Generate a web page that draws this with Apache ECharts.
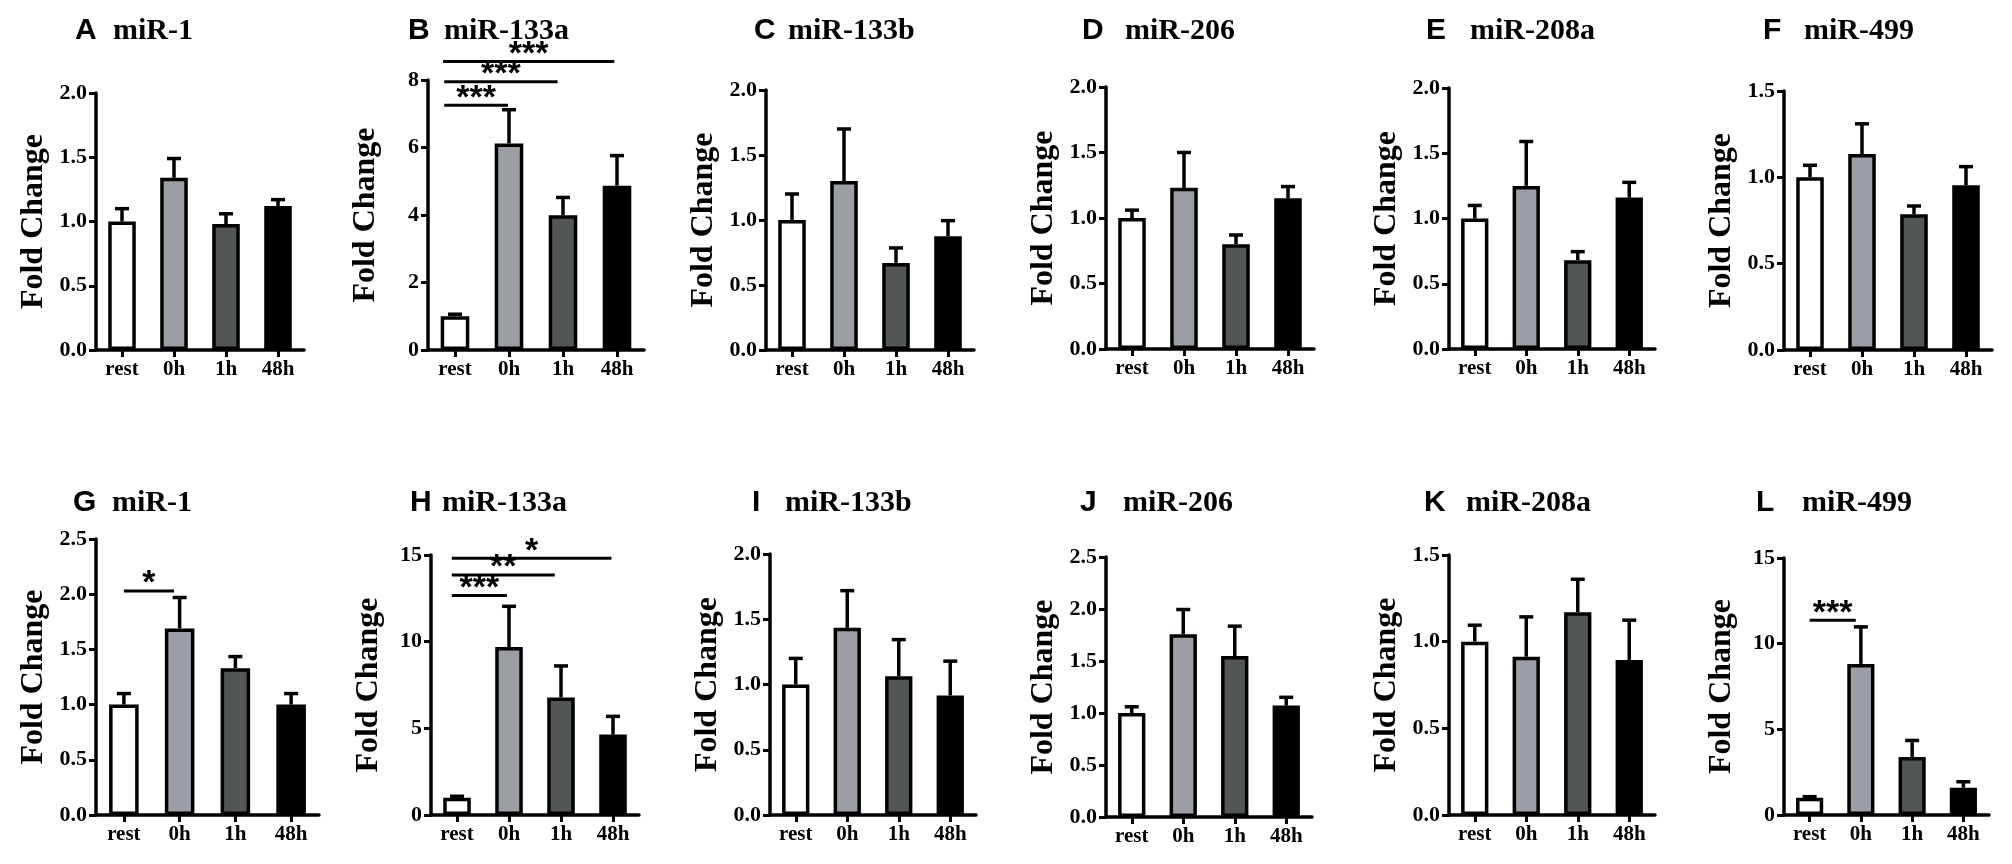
<!DOCTYPE html>
<html>
<head>
<meta charset="utf-8">
<title>miRNA fold change</title>
<script src="https://cdn.jsdelivr.net/npm/echarts@6/dist/echarts.min.js"></script>
<style>
  html, body { margin: 0; padding: 0; background: #fff; }
  #chart { width: 2012px; height: 864px; }
</style>
</head>
<body>
<div id="chart"></div>
<script>
// categories and bar fills
var categories = ['rest', '0h', '1h', '48h'];
var barColors = ['#ffffff', '#9b9ea4', '#535754', '#000000'];

// mean fold change and error (upper bar) per panel
var meanA = [1.00, 1.34, 0.98, 1.12], errA = [0.10, 0.15, 0.08, 0.05];
var meanB = [1.00, 6.12, 3.99, 4.87], errB = [0.06, 1.00, 0.53, 0.89];
var meanC = [1.00, 1.30, 0.67, 0.875], errC = [0.20, 0.40, 0.115, 0.12];
var meanD = [1.00, 1.23, 0.80, 1.15], errD = [0.06, 0.27, 0.07, 0.09];
var meanE = [1.00, 1.25, 0.68, 1.16], errE = [0.10, 0.34, 0.066, 0.117];
var meanF = [1.00, 1.135, 0.786, 0.954], errF = [0.07, 0.175, 0.048, 0.108];
var meanG = [1.00, 1.69, 1.33, 1.00], errG = [0.10, 0.28, 0.105, 0.10];
var meanH = [1.00, 9.69, 6.78, 4.64], errH = [0.08, 2.35, 1.82, 1.05];
var meanI = [1.00, 1.434, 1.064, 0.916], errI = [0.20, 0.285, 0.28, 0.263];
var meanJ = [1.00, 1.758, 1.547, 1.071], errJ = [0.06, 0.237, 0.288, 0.08];
var meanK = [1.00, 0.913, 1.17, 0.894], errK = [0.095, 0.23, 0.19, 0.23];
var meanL = [1.00, 8.82, 3.38, 1.59], errL = [0.07, 2.16, 0.97, 0.35];

// y axis max / tick step per panel (A..L)
var yMax = [2, 8, 2, 2, 2, 1.5, 2.5, 15, 2, 2.5, 1.5, 15];
var yStep = [0.5, 2, 0.5, 0.5, 0.5, 0.5, 0.5, 5, 0.5, 0.5, 0.5, 5];

// significance bars: [from index, to index, y value, stars]
var sigB = [[-0.2, 0.98, 7.25, '***'], [-0.2, 1.9, 7.95, '***'], [-0.22, 2.95, 8.55, '***']];
var sigG = [[0, 0.9, 2.03, '*']];
var sigH = [[-0.1, 0.96, 12.66, '***'], [-0.1, 1.88, 13.85, '**'], [-0.1, 2.97, 14.81, '*']];
var sigL = [[0, 0.9, 11.37, '***']];

var letters = ['A', 'B', 'C', 'D', 'E', 'F', 'G', 'H', 'I', 'J', 'K', 'L'];
var names = ['miR-1', 'miR-133a', 'miR-133b', 'miR-206', 'miR-208a', 'miR-499',
             'miR-1', 'miR-133a', 'miR-133b', 'miR-206', 'miR-208a', 'miR-499'];
var means = [meanA, meanB, meanC, meanD, meanE, meanF, meanG, meanH, meanI, meanJ, meanK, meanL];
var errs = [errA, errB, errC, errD, errE, errF, errG, errH, errI, errJ, errK, errL];
var sigs = [[], sigB, [], [], [], [], sigG, sigH, [], [], [], sigL];

// layout: grid box + title positions (pixels)
var boxes = [
    {left: 96, top: 93, width: 208, bottom: 350, lx: 75, nx: 113, ty: 31},
    {left: 428, top: 80, width: 216, bottom: 350, lx: 408, nx: 444, ty: 31},
    {left: 766, top: 90, width: 208, bottom: 350, lx: 754, nx: 788, ty: 31},
    {left: 1106, top: 87, width: 208, bottom: 349, lx: 1082, nx: 1125, ty: 31},
    {left: 1449, top: 88, width: 206, bottom: 349, lx: 1426, nx: 1470, ty: 31},
    {left: 1784, top: 91, width: 208, bottom: 350, lx: 1763, nx: 1804, ty: 31},
    {left: 96, top: 539, width: 223, bottom: 815, lx: 73, nx: 112, ty: 503},
    {left: 431, top: 555, width: 208, bottom: 815, lx: 410, nx: 442, ty: 503},
    {left: 770, top: 554, width: 206, bottom: 815, lx: 752, nx: 785, ty: 503},
    {left: 1106, top: 557, width: 206, bottom: 817, lx: 1080, nx: 1123, ty: 503},
    {left: 1449, top: 555, width: 206, bottom: 815, lx: 1424, nx: 1466, ty: 503},
    {left: 1784, top: 558, width: 205, bottom: 815, lx: 1756, nx: 1802, ty: 503}
];

var serif = '"Liberation Serif", "Times New Roman", serif';
var sans = '"Liberation Sans", Arial, sans-serif';

var grid = [], xAxis = [], yAxis = [], series = [], graphic = [];

boxes.forEach(function (b, i) {
    grid.push({left: b.left, top: b.top, width: b.width, height: b.bottom - b.top, containLabel: false});

    xAxis.push({
        type: 'category',
        gridIndex: i,
        data: categories,
        axisLine: {lineStyle: {color: '#000', width: 3.5}},
        axisTick: {show: true, alignWithLabel: true, length: 7, lineStyle: {color: '#000', width: 3}},
        axisLabel: {interval: 0, margin: 9, color: '#000', fontFamily: serif, fontWeight: 'bold', fontSize: 21}
    });

    var step = yStep[i];
    yAxis.push({
        type: 'value',
        gridIndex: i,
        min: 0,
        max: yMax[i],
        interval: step,
        name: 'Fold Change',
        nameLocation: 'middle',
        nameGap: 46,
        nameTextStyle: {color: '#000', fontFamily: serif, fontWeight: 'bold', fontSize: 32},
        splitLine: {show: false},
        axisLine: {show: true, lineStyle: {color: '#000', width: 3.5}},
        axisTick: {show: true, length: 7, lineStyle: {color: '#000', width: 3}},
        axisLabel: {
            margin: 9, color: '#000', fontFamily: serif, fontWeight: 'bold', fontSize: 22,
            formatter: function (v) { return step < 1 ? v.toFixed(1) : String(v); }
        }
    });

    series.push({
        type: 'bar',
        xAxisIndex: i,
        yAxisIndex: i,
        barWidth: '53%',
        z: 3,
        data: means[i].map(function (v, k) {
            return {value: v, itemStyle: {color: barColors[k], borderColor: '#000', borderWidth: 3.5}};
        })
    });

    // upper error bars
    series.push({
        type: 'custom',
        xAxisIndex: i,
        yAxisIndex: i,
        z: 2,
        encode: {x: 0, y: 1},
        data: means[i].map(function (v, k) { return [k, v, errs[i][k]]; }),
        renderItem: function (params, api) {
            var x = api.value(0), m = api.value(1), e = api.value(2);
            var base = api.coord([x, m]);
            var tip = api.coord([x, m + e]);
            var half = 7;
            return {
                type: 'group',
                children: [
                    {type: 'line', shape: {x1: base[0], y1: base[1], x2: tip[0], y2: tip[1]},
                     style: {stroke: '#000', lineWidth: 3.5}},
                    {type: 'line', shape: {x1: tip[0] - half, y1: tip[1], x2: tip[0] + half, y2: tip[1]},
                     style: {stroke: '#000', lineWidth: 3.5}}
                ]
            };
        }
    });

    // significance lines + stars
    if (sigs[i].length) {
        var list = sigs[i];
        series.push({
            type: 'custom',
            xAxisIndex: i,
            yAxisIndex: i,
            z: 4,
            clip: false,
            encode: {x: 0, y: 1},
            data: list.map(function (s, k) { return [0, s[2], k]; }),
            renderItem: function (params, api) {
                var s = list[params.dataIndex];
                var c = api.coord([0, s[2]]);
                var band = api.size([1, 0])[0];
                var x1 = c[0] + s[0] * band, x2 = c[0] + s[1] * band;
                return {
                    type: 'group',
                    children: [
                        {type: 'line', shape: {x1: x1, y1: c[1], x2: x2, y2: c[1]},
                         style: {stroke: '#000', lineWidth: 3}},
                        {type: 'text', x: (x1 + x2) / 2, y: c[1] - 7,
                         style: {text: s[3], align: 'center', verticalAlign: 'middle',
                                 font: 'bold 34px ' + sans, fill: '#000'}}
                    ]
                };
            }
        });
    }

    graphic.push({type: 'text', x: b.lx, y: b.ty,
        style: {text: letters[i], align: 'left', verticalAlign: 'middle', font: 'bold 30px ' + sans, fill: '#000'}});
    graphic.push({type: 'text', x: b.nx, y: b.ty,
        style: {text: names[i], align: 'left', verticalAlign: 'middle', font: 'bold 30px ' + serif, fill: '#000'}});
});

var myChart = echarts.init(document.getElementById('chart'));
myChart.setOption({
    backgroundColor: '#fff',
    animation: false,
    grid: grid,
    xAxis: xAxis,
    yAxis: yAxis,
    series: series,
    graphic: graphic
});
</script>
</body>
</html>
